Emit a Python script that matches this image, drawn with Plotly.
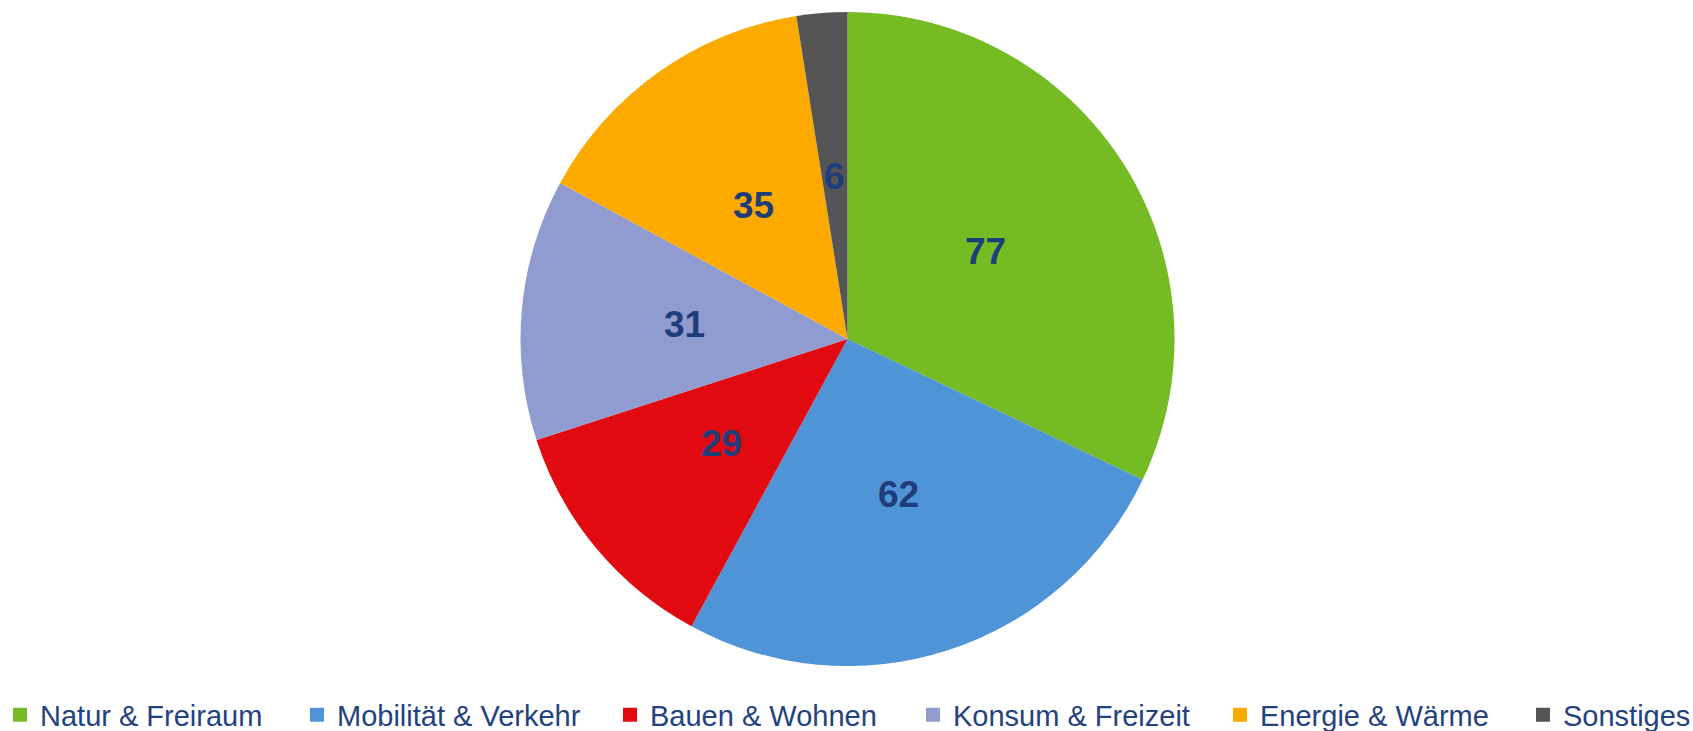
import numpy as np
import plotly.graph_objects as go

categories = ["Natur & Freiraum", "Mobilität & Verkehr", "Bauen & Wohnen",
              "Konsum & Freizeit", "Energie & Wärme", "Sonstiges"]
values = [77, 62, 29, 31, 35, 6]
colors = ["#74bb24", "#4f94d6", "#e00a10", "#909bd0", "#fcaa00", "#555555"]

# legend entry widths (style only)
legend_widths = [252, 268, 258, 262, 258, 128]

W, H = 1693, 731
CX, CY, R = 847.5, 339.0, 327.0  # pie centre / radius in px

dom_x = [(CX - R) / W, (CX + R) / W]
dom_y = [1 - (CY + R) / H, 1 - (CY - R) / H]

fig = go.Figure()
fig.add_trace(go.Pie(
    labels=categories,
    values=values,
    sort=False,
    direction="clockwise",
    rotation=0,
    marker=dict(colors=colors, line=dict(width=0)),
    textinfo="none",
    domain=dict(x=dom_x, y=dom_y),
    hoverinfo="label+value",
    showlegend=False,
))

# legend entries
for name, col, lw in zip(categories, colors, legend_widths):
    fig.add_trace(go.Scatter(
        x=[None], y=[None], mode="markers", name=name,
        marker=dict(symbol="square", size=14, color=col),
        legendwidth=lw, hoverinfo="skip", showlegend=True,
    ))

# value labels at half radius on each slice's mid angle
vals = np.array(values, dtype=float)
mid = (np.cumsum(vals) - vals / 2) / vals.sum() * 2 * np.pi
cxp = CX / W
cyp = 1 - CY / H
for v, a in zip(values, mid):
    fig.add_annotation(
        x=cxp + 0.5 * R * np.sin(a) / W,
        y=cyp + 0.5 * R * np.cos(a) / H,
        xref="paper", yref="paper",
        text=str(v), showarrow=False,
        xanchor="center", yanchor="middle",
        font=dict(family="Liberation Sans", size=37, color="#1f3d78", weight="bold"),
    )

fig.update_layout(
    width=W, height=H,
    margin=dict(l=0, r=0, t=0, b=0, autoexpand=False),
    paper_bgcolor="white",
    plot_bgcolor="rgba(0,0,0,0)",
    xaxis=dict(visible=False),
    yaxis=dict(visible=False),
    showlegend=True,
    legend=dict(
        orientation="h",
        x=0.0, xanchor="left",
        y=1 - 715 / H, yanchor="middle",
        bgcolor="rgba(0,0,0,0)",
        font=dict(family="Liberation Sans", size=29, color="#24427e"),
        itemwidth=30,
        traceorder="normal",
    ),
)

fig.write_html("out.html", config={"displayModeBar": False},
               post_script="document.body.style.margin='0px';")
